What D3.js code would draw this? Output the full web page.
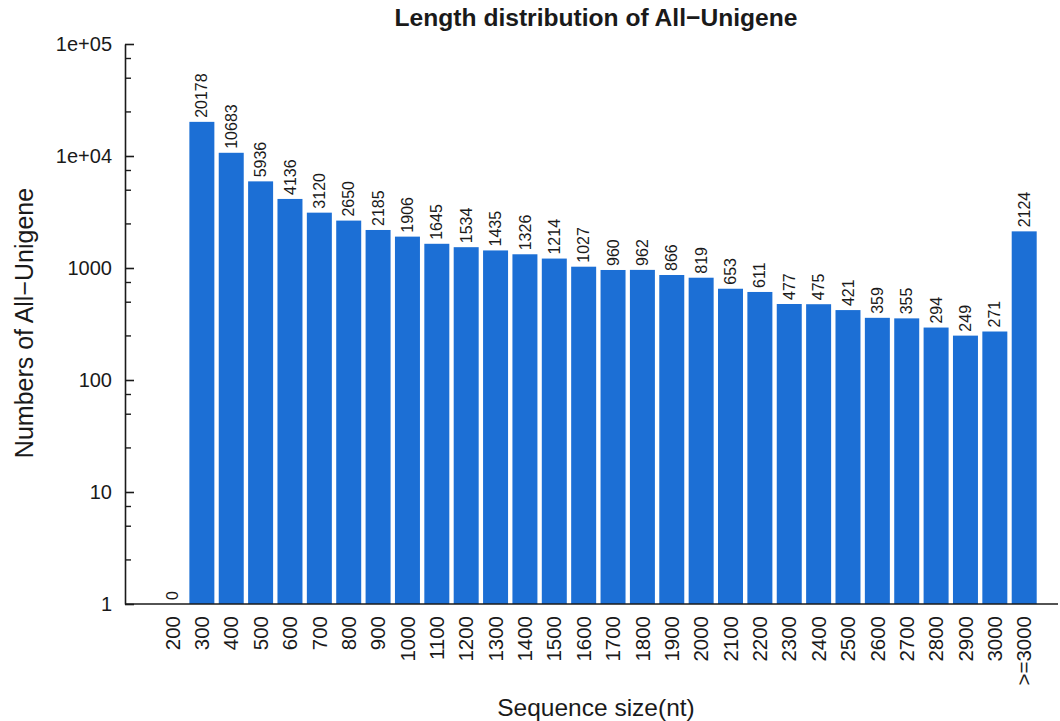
<!DOCTYPE html>
<html>
<head>
<meta charset="utf-8">
<script src="https://cdn.jsdelivr.net/npm/d3@7"></script>
<style>
  html, body { margin: 0; padding: 0; background: #fff; }
  svg { display: block; font-family: "Liberation Sans", Arial, Helvetica, sans-serif; }
</style>
</head>
<body>
<svg id="chart" width="1060" height="721"></svg>
<script>
// Unigene counts per length bin (nt)
const categories = ["200","300","400","500","600","700","800","900","1000","1100",
  "1200","1300","1400","1500","1600","1700","1800","1900","2000","2100",
  "2200","2300","2400","2500","2600","2700","2800","2900","3000",">=3000"];
const counts = [0,20178,10683,5936,4136,3120,2650,2185,1906,1645,
  1534,1435,1326,1214,1027,960,962,866,819,653,
  611,477,475,421,359,355,294,249,271,2124];
const yMajorTicks = [1, 10, 100, 1000, 10000, 100000];
const yMajorLabels = ["1", "10", "100", "1000", "1e+04", "1e+05"];
const yMinorMultipliers = [2.5, 5, 7.5];

const svg = d3.select("#chart");
const plot = { left: 125, right: 1058, top: 44, bottom: 604 };

const x = d3.scaleBand()
  .domain(categories)
  .range([160, 1036.7])
  .paddingInner(0.149)
  .paddingOuter(0);

const y = d3.scaleLog()
  .domain([1, 1e5])
  .range([plot.bottom, plot.top]);

const ink = "#1a1a1a";
const barColor = "#1c6fd5";

// Bars (zero counts have no bar on a log axis)
const data = categories.map((c, i) => ({ cat: c, value: counts[i] }));
svg.append("g")
  .selectAll("rect")
  .data(data.filter(d => d.value >= 1))
  .join("rect")
  .attr("x", d => x(d.cat))
  .attr("width", x.bandwidth())
  .attr("y", d => y(d.value))
  .attr("height", d => y(1) - y(d.value))
  .attr("fill", barColor);

// Value labels above the bars, rotated
svg.append("g")
  .selectAll("text")
  .data(data)
  .join("text")
  .attr("transform", d => `translate(${x(d.cat) + x.bandwidth() / 2},${y(Math.max(d.value, 1)) - 4}) rotate(-90)`)
  .attr("dy", "0.35em")
  .attr("text-anchor", "start")
  .attr("font-size", 16)
  .attr("fill", ink)
  .text(d => d.value);

// Y axis: major ticks pointing inward
const yAxis = d3.axisLeft(y)
  .tickValues(yMajorTicks)
  .tickFormat((d, i) => yMajorLabels[i])
  .tickSizeInner(-9)
  .tickSizeOuter(0)
  .tickPadding(13);
const gy = svg.append("g")
  .attr("transform", `translate(${plot.left},0)`)
  .call(yAxis);
gy.select(".domain").attr("stroke", ink).attr("stroke-width", 1.6);
gy.selectAll(".tick line").attr("stroke", ink).attr("stroke-width", 1.6);
gy.selectAll(".tick text")
  .attr("font-size", 20)
  .attr("fill", ink)
  .attr("font-family", "Liberation Sans, Arial, sans-serif");

// Minor ticks at 2.5, 5, 7.5 of each decade
const minorTicks = [];
for (let k = 0; k < 5; k++) {
  yMinorMultipliers.forEach(m => minorTicks.push(m * Math.pow(10, k)));
}
const gyMinor = svg.append("g")
  .attr("transform", `translate(${plot.left},0)`)
  .call(d3.axisLeft(y).tickValues(minorTicks).tickFormat("").tickSizeInner(-6).tickSizeOuter(0));
gyMinor.select(".domain").remove();
gyMinor.selectAll(".tick line").attr("stroke", ink).attr("stroke-width", 1.4);

// X axis: baseline plus rotated category labels
svg.append("line")
  .attr("x1", plot.left).attr("x2", plot.right)
  .attr("y1", y(1)).attr("y2", y(1))
  .attr("stroke", ink).attr("stroke-width", 1.6);

const gx = svg.append("g")
  .attr("transform", `translate(0,${y(1)})`)
  .call(d3.axisBottom(x).tickSize(0).tickPadding(0));
gx.select(".domain").remove();
gx.selectAll(".tick text")
  .attr("transform", "translate(0,12) rotate(-90)")
  .attr("x", 0)
  .attr("y", 0)
  .attr("dy", "0.35em")
  .attr("text-anchor", "end")
  .attr("font-size", 20.5)
  .attr("fill", ink)
  .attr("font-family", "Liberation Sans, Arial, sans-serif");

// Titles
svg.append("text")
  .attr("x", 596).attr("y", 26)
  .attr("text-anchor", "middle")
  .attr("font-size", 24.6)
  .attr("font-weight", "bold")
  .attr("fill", ink)
  .text("Length distribution of All\u2212Unigene");

svg.append("text")
  .attr("x", 596).attr("y", 716)
  .attr("text-anchor", "middle")
  .attr("font-size", 24.5)
  .attr("fill", ink)
  .text("Sequence size(nt)");

svg.append("text")
  .attr("transform", `translate(33,${(plot.top + plot.bottom) / 2 - 1}) rotate(-90)`)
  .attr("text-anchor", "middle")
  .attr("font-size", 25)
  .attr("fill", ink)
  .text("Numbers of All\u2212Unigene");
</script>
</body>
</html>
